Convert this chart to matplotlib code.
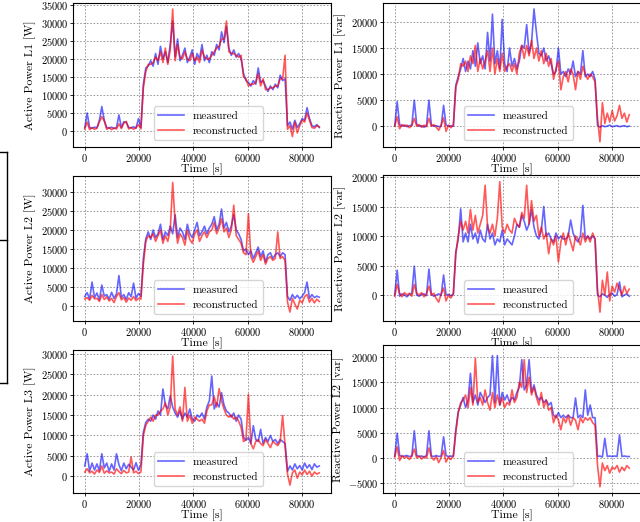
import numpy as np
import matplotlib
matplotlib.use('Agg')
import matplotlib.pyplot as plt
from matplotlib.lines import Line2D

plt.rcParams['font.family'] = 'serif'
plt.rcParams['font.serif'] = ['cmr10', 'DejaVu Serif']
plt.rcParams['mathtext.fontset'] = 'cm'
plt.rcParams['axes.formatter.use_mathtext'] = True
plt.rcParams['axes.unicode_minus'] = False

# time axis, one sample every 900 s over a day
time_s = np.arange(0, 86401, 900)

# values in kW / kvar
p1_meas = [0.9, 5.0, 1.0, 0.8, 1.1, 0.9, 3.0, 6.8, 3.0, 1.0,
           0.8, 1.1, 0.7, 1.0, 4.5, 1.0, 2.6, 2.4, 1.0, 0.9,
           1.2, 0.8, 3.5, 1.0, 13.0, 17.5, 18.0, 19.5, 18.0, 21.5,
           18.5, 23.5, 20.0, 22.0, 19.0, 24.0, 30.5, 20.5, 25.5, 19.5,
           21.0, 23.0, 19.0, 20.5, 22.5, 18.5, 21.5, 20.0, 24.0, 19.5,
           21.0, 19.0, 22.0, 21.0, 24.0, 22.5, 27.5, 24.5, 29.0, 23.0,
           21.0, 22.5, 20.5, 21.5, 20.0, 16.0, 14.0, 13.5, 12.5, 14.0,
           13.0, 17.5, 13.5, 14.0, 12.5, 11.0, 12.5, 11.5, 13.0, 12.0,
           15.5, 14.0, 14.5, 1.5, 2.5, 0.5, 3.0, 1.0, 2.0, 3.5,
           3.0, 6.5, 3.5, 1.5, 1.2, 1.8, 1.0]
p1_rec = [0.6, 2.5, 0.4, 1.0, 0.5, 0.8, 2.6, 4.0, 2.8, 0.5,
          1.0, 0.4, 0.9, 0.6, 2.0, 0.7, 2.2, 2.7, 0.6, 1.0,
          0.5, 1.0, 1.8, 0.6, 12.0, 16.5, 18.5, 18.5, 19.0, 20.5,
          19.5, 22.0, 19.0, 23.0, 18.5, 22.5, 33.8, 19.5, 24.0, 20.5,
          20.0, 22.0, 20.0, 19.5, 21.5, 19.5, 20.5, 19.0, 22.5, 20.5,
          20.0, 20.0, 21.0, 22.0, 23.0, 23.5, 25.5, 25.5, 30.5, 22.0,
          21.5, 21.5, 21.0, 20.5, 21.0, 15.0, 14.5, 12.5, 13.0, 13.0,
          13.5, 16.0, 12.5, 14.5, 11.5, 11.5, 12.0, 12.0, 12.5, 12.5,
          14.5, 14.5, 21.0, 0.5, 1.5, -1.5, 2.5, -0.5, 1.5, 3.0,
          2.5, 5.0, 3.0, 1.0, 0.8, 1.5, 1.2]

q1_meas = [0.1, 4.7, 0.3, 0.0, 0.2, -0.1, 0.1, 0.2, 5.0, 0.3,
           0.0, 0.1, -0.2, 0.1, 5.0, 0.2, 0.0, 0.1, -0.1, 0.0,
           4.0, 0.2, 0.0, 0.1, 0.0, 7.9, 9.5, 11.0, 13.0, 10.5,
           12.5, 11.0, 14.5, 11.5, 16.0, 12.0, 13.5, 11.0, 18.0, 12.5,
           21.5, 12.0, 14.5, 11.0, 20.5, 12.0, 10.5, 15.0, 11.5, 13.0,
           11.0, 12.5, 15.5, 15.0, 19.5, 14.0, 16.0, 22.5, 18.0, 14.0,
           13.5, 15.0, 12.5, 13.5, 12.0, 10.0, 10.5, 15.0, 10.0, 10.5,
           9.5, 11.0, 10.0, 12.5, 9.5, 10.5, 10.0, 14.5, 9.5, 10.0,
           9.5, 10.5, 9.0, 0.2, -0.2, 0.1, -0.1, 0.0, 0.2, -0.1,
           0.0, 0.1, -0.1, 0.0, 0.1, -0.1, 0.0]
q1_rec = [0.0, 1.8, -0.5, 0.3, 0.0, 0.2, -0.3, 0.1, 1.5, 0.0,
          0.3, -0.2, 0.2, -0.1, 1.5, 0.0, 0.3, -0.2, -0.8, 0.2,
          1.6, -1.0, 0.2, -0.3, 0.2, 7.5, 9.0, 12.0, 11.5, 12.5,
          10.5, 13.5, 12.0, 15.5, 10.5, 13.0, 11.0, 12.5, 14.5, 10.5,
          15.0, 10.0, 13.0, 10.5, 14.0, 10.5, 11.5, 12.0, 10.5, 12.0,
          10.0, 14.0, 15.5, 13.0, 15.5, 13.5, 16.5, 13.0, 15.0, 12.5,
          14.5, 12.0, 14.0, 11.5, 13.0, 9.0, 11.0, 12.5, 7.0, 9.5,
          10.5, 8.5, 11.0, 10.0, 7.0, 10.5, 9.0, 11.5, 10.0, 9.0,
          10.0, 9.5, 8.5, 1.5, -3.0, 4.5, 0.5, 2.5, 0.8, 3.0,
          1.0, 2.0, 4.0, 1.5, 2.5, 0.8, 2.2]

p2_meas = [2.5, 3.5, 1.8, 6.3, 2.2, 3.4, 1.6, 5.5, 2.6, 3.0,
           1.8, 3.6, 2.0, 3.2, 8.0, 2.2, 3.0, 1.7, 3.5, 2.4,
           6.0, 2.0, 3.3, 2.5, 12.5, 17.7, 19.5, 17.5, 20.0, 18.0,
           19.0, 21.5, 17.5, 19.5, 18.5, 21.0, 19.0, 24.0, 18.0, 20.5,
           19.5, 17.5, 21.5, 19.0, 18.0, 20.0, 22.0, 18.5, 19.5, 21.0,
           19.0, 20.5, 21.5, 23.5, 20.0, 21.5, 25.5, 20.5, 22.0, 19.5,
           21.0, 24.0, 20.0, 19.0, 17.5, 14.5, 15.0, 13.5, 14.5, 12.5,
           14.0, 15.5, 13.0, 14.5, 11.6, 13.5, 14.0, 12.5, 13.5, 14.0,
           13.0, 14.0, 13.5, 2.5, 1.5, 3.0, 2.0, 2.8, 1.9, 2.6,
           3.5, 6.3, 2.0, 3.0, 2.2, 2.6, 2.3]
p2_rec = [1.8, 2.2, 1.5, 2.8, 1.9, 2.0, 1.2, 3.0, 1.7, 2.4,
          1.3, 2.0, 0.9, 2.5, 3.5, 1.6, 2.2, 1.0, 2.1, 1.5,
          2.5, 1.4, 2.0, 1.8, 11.0, 17.0, 18.5, 18.0, 19.0, 17.0,
          18.5, 20.0, 16.5, 18.5, 17.0, 20.0, 32.5, 22.0, 16.5, 19.0,
          18.0, 16.0, 20.0, 17.5, 16.5, 19.0, 20.0, 17.0, 18.5, 19.5,
          18.0, 19.5, 20.0, 22.0, 19.0, 20.5, 23.0, 19.5, 20.5, 18.0,
          20.0, 26.5, 18.5, 17.5, 16.5, 14.0, 13.5, 24.3, 13.0, 11.5,
          13.0, 14.5, 12.0, 13.5, 11.0, 12.5, 13.0, 12.0, 12.5, 19.5,
          12.5, 13.0, 12.0, 1.0, -1.6, 2.0, 0.5, -0.8, 1.5, 0.8,
          2.5, 3.0, 1.0, 2.0, 0.8, 1.8, 1.2]

q2_meas = [0.1, 4.2, -0.2, 0.2, 0.0, -0.3, 0.1, 0.3, 4.9, 0.0,
           -0.2, 0.1, 0.2, -0.1, 4.4, 0.1, -0.2, 0.0, 0.2, -0.1,
           3.4, 0.0, 0.1, -0.1, 0.1, 7.3, 9.5, 14.6, 9.0, 10.5,
           9.0, 12.0, 9.5, 10.5, 8.8, 11.0, 9.5, 9.0, 12.0, 9.5,
           10.5, 8.5, 9.5, 9.0, 11.0, 8.5, 9.5, 9.0, 8.5, 10.0,
           12.0, 11.5, 13.5, 12.5, 11.0, 12.0, 14.5, 11.5, 10.0, 9.5,
           11.0, 15.0, 10.0, 10.5, 9.5, 9.0, 10.5, 9.5, 10.0, 9.5,
           9.5, 10.0, 12.7, 10.5, 9.5, 9.0, 10.0, 15.2, 9.5, 10.0,
           9.5, 10.0, 9.5, 0.0, -0.3, 0.2, 0.0, -0.4, 0.1, 0.3,
           -0.2, 0.1, 2.2, -0.3, 0.0, 0.2, -0.2]
q2_rec = [-0.2, 1.8, 0.3, -0.3, 0.4, 0.0, 0.3, -0.2, 1.8, 0.3,
          0.0, 0.4, -0.3, 0.2, 1.5, 0.0, 0.3, -0.6, -1.2, 0.2,
          1.2, -1.0, 0.0, -0.5, 0.3, 7.0, 10.0, 12.5, 11.0, 12.5,
          10.5, 14.5, 11.0, 13.5, 10.5, 12.0, 13.5, 18.6, 11.5, 10.5,
          12.0, 10.0, 13.0, 19.2, 11.5, 10.5, 12.0, 11.0, 10.5, 13.0,
          12.0, 11.5, 14.0, 13.0, 18.6, 12.0, 16.0, 12.5, 13.5, 10.0,
          11.5, 9.5, 10.5, 7.0, 9.5, 8.5, 10.0, 5.6, 9.0, 10.5,
          8.5, 10.5, 9.0, 7.5, 10.0, 9.5, 8.5, 10.5, 9.0, 10.0,
          9.0, 10.5, 9.5, 1.0, -2.9, 2.5, 0.0, 3.9, -1.0, 1.5,
          0.5, 2.0, 1.0, 0.0, 1.5, 0.3, 1.0]

p3_meas = [2.5, 5.5, 1.2, 3.2, 1.5, 3.0, 1.3, 5.5, 2.0, 3.2,
           1.2, 3.0, 1.5, 5.5, 2.8, 1.3, 3.2, 1.8, 2.9, 2.2,
           1.5, 3.3, 1.4, 2.8, 10.8, 13.2, 14.0, 13.5, 15.0, 14.0,
           16.0, 15.0, 21.4, 17.5, 16.5, 19.7, 17.0, 15.5, 14.5, 16.0,
           14.0, 15.5, 14.5, 16.5, 14.0, 13.5, 15.0, 14.5, 15.5, 14.0,
           17.0, 18.5, 24.6, 16.5, 18.0, 17.0, 20.5, 17.5, 16.0, 15.5,
           14.5, 15.5, 13.5, 15.0, 14.0, 9.6, 8.8, 9.5, 8.0, 12.4,
           9.0, 8.5, 11.5, 8.0, 9.5, 8.5, 10.0, 8.5, 9.0, 8.0,
           9.0, 8.5, 8.0, 1.2, 2.5, 1.5, 3.0, 1.8, 2.6, 1.5,
           3.2, 2.0, 2.8, 1.6, 3.0, 2.2, 2.5]
p3_rec = [1.0, 1.8, 0.8, 1.2, 0.5, 1.5, 0.9, 2.5, 0.7, 1.3,
          0.8, 1.0, 0.5, 1.8, 1.1, 0.6, 1.4, 0.8, 1.0, 4.7,
          0.8, 1.2, 0.6, 1.0, 10.0, 12.5, 13.5, 14.5, 13.5, 15.0,
          15.0, 16.0, 16.5, 18.0, 15.0, 17.0, 29.5, 16.5, 15.0, 17.0,
          13.5, 21.8, 13.5, 15.0, 13.0, 14.5, 14.0, 13.5, 14.0, 13.0,
          16.0, 17.5, 17.5, 19.5, 17.0, 21.5, 18.5, 16.5, 15.0, 14.5,
          15.0, 14.0, 14.5, 13.5, 12.0, 8.5, 9.0, 20.1, 8.0, 6.7,
          8.5, 9.0, 8.0, 7.5, 9.0, 8.0, 7.0, 8.5, 8.0, 7.5,
          8.5, 14.9, 7.5, 0.5, -2.2, 0.8, 1.5, -0.5, 1.0, 0.3,
          1.5, 0.4, 1.2, 0.0, 1.0, 0.5, 0.8]

q3_meas = [0.4, 4.9, 0.5, 0.3, 0.4, 0.5, 0.3, 0.4, 5.4, 0.5,
           0.3, 0.4, 0.2, 0.5, 5.4, 0.4, 0.3, 0.5, 0.3, 0.4,
           4.2, 0.5, 0.3, 0.4, 0.3, 5.6, 9.2, 10.5, 12.0, 10.0,
           11.5, 16.8, 11.0, 12.5, 10.5, 13.0, 12.0, 11.0, 12.0, 12.5,
           20.3, 11.0, 20.3, 10.5, 13.0, 11.5, 12.5, 11.0, 12.0, 11.5,
           13.0, 14.0, 19.5, 13.5, 14.5, 19.5, 13.0, 14.5, 12.5, 11.5,
           12.0, 11.0, 11.5, 10.5, 11.0, 8.5, 8.0, 9.0, 8.0, 8.5,
           8.0, 8.5, 8.0, 8.0, 11.9, 8.0, 8.5, 8.0, 13.5, 8.5,
           10.5, 8.0, 8.0, 0.3, 0.4, 0.2, 3.9, 0.3, 0.4, 0.3,
           0.4, 0.3, 4.6, 0.3, 0.4, 0.3, 0.3]
q3_rec = [0.2, 2.2, -0.5, 0.5, 0.0, 0.3, -0.3, 0.4, 1.8, 0.0,
          0.4, -0.2, 0.3, 0.0, 2.0, 0.2, -0.4, 0.3, -0.9, 0.1,
          1.5, -0.8, 0.2, -0.3, 0.5, 5.0, 9.0, 11.0, 11.5, 12.5,
          10.0, 14.0, 10.5, 19.8, 11.0, 12.0, 10.5, 13.5, 11.0, 9.5,
          13.0, 10.0, 12.5, 10.5, 12.0, 10.0, 11.0, 10.5, 13.5, 11.0,
          12.0, 15.0, 14.0, 19.5, 13.0, 16.0, 12.5, 14.0, 12.0, 10.5,
          13.0, 10.0, 11.5, 9.5, 10.0, 7.0, 8.5, 7.5, 5.6, 8.0,
          7.0, 8.5, 6.5, 8.0, 7.5, 5.6, 8.0, 7.0, 8.0, 7.5,
          8.0, 7.0, 6.5, -1.5, -5.7, -1.0, -2.5, -1.5, -3.0, -1.8,
          -2.2, -1.5, -2.8, -1.8, -2.5, -1.5, -2.0]

ylabels = ['Active Power L1 [W]', 'Reactive Power L1 [var]',
           'Active Power L2 [W]', 'Reactive Power L2 [var]',
           'Active Power L3 [W]', 'Reactive Power L2 [var]']
series = [(p1_meas, p1_rec), (q1_meas, q1_rec),
          (p2_meas, p2_rec), (q2_meas, q2_rec),
          (p3_meas, p3_rec), (q3_meas, q3_rec)]

# panel boxes in pixels: left, right, top, bottom
boxes = [(73, 331, 3, 147), (383, 641, 3, 147),
         (73, 331, 176, 321), (383, 641, 175, 321),
         (73, 331, 350, 493), (383, 641, 345, 493)]
ylims = [(-4400, 35500), (-4000, 23650),
         (-3950, 34200), (-4400, 20340),
         (-4150, 31000), (-6930, 22400)]

W, H = 640, 522
fig = plt.figure(figsize=(W / 100, H / 100), dpi=100)

for k in range(6):
    l, r, t, b = boxes[k]
    ax = fig.add_axes([l / W, 1 - b / H, (r - l) / W, (b - t) / H])
    meas = np.array(series[k][0]) * 1000
    rec = np.array(series[k][1]) * 1000
    ax.plot(time_s, meas, color='blue', alpha=0.6, lw=1.2, label='measured')
    ax.plot(time_s, rec, color='red', alpha=0.65, lw=1.2, label='reconstructed')
    ax.set_ylim(ylims[k])
    ax.set_xticks([0, 20000, 40000, 60000, 80000])
    ax.yaxis.set_major_locator(plt.MultipleLocator(5000))
    ax.grid(True, linestyle=(0, (2, 2)), color='0.55', lw=0.6)
    ax.tick_params(labelsize=7.5, length=2, width=0.6, pad=1.5)
    ax.set_xlabel('Time [s]', fontsize=8.5, labelpad=0)
    ax.set_ylabel(ylabels[k], fontsize=8.5, labelpad=3)
    ax.legend(loc='lower left', bbox_to_anchor=(0.305, 0.03), fontsize=8,
              handlelength=2.3, borderaxespad=0.2, framealpha=0.8)

# stray frame piece at the left edge of the original
for seg in [((7, 7), (152, 383)), ((0, 7), (152, 152)),
            ((0, 7), (240, 240)), ((0, 7), (383, 383))]:
    xs = [v / W for v in seg[0]]
    ys = [1 - v / H for v in seg[1]]
    fig.add_artist(Line2D(xs, ys, color='black', lw=1.0))

fig.savefig('out.png', dpi=100)
